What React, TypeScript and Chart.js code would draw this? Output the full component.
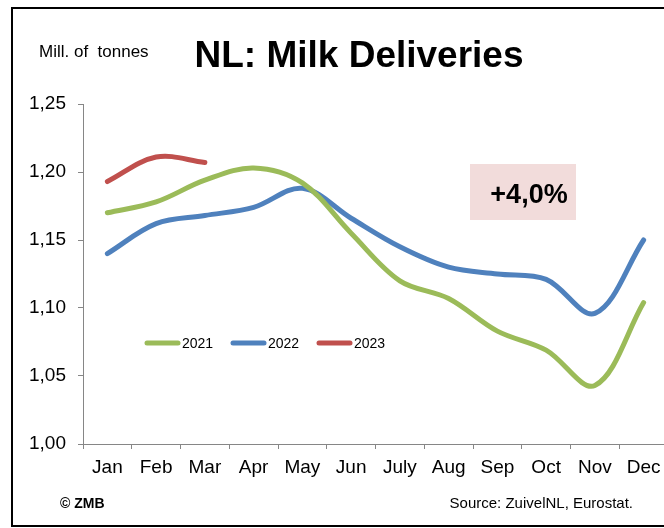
import React, { useEffect, useRef } from "react";
import { Chart, registerables } from "chart.js";

Chart.register(...registerables);

const months = ["Jan", "Feb", "Mar", "Apr", "May", "Jun", "July", "Aug", "Sep", "Oct", "Nov", "Dec"];
const seriesLabels = ["2021", "2022", "2023"];
const values2021 = [1.170, 1.178, 1.194, 1.203, 1.192, 1.155, 1.120, 1.107, 1.083, 1.069, 1.043, 1.104];
const values2022 = [1.140, 1.162, 1.168, 1.174, 1.188, 1.166, 1.145, 1.130, 1.125, 1.121, 1.096, 1.150];
const values2023 = [1.193, 1.211, 1.207];
const seriesColors = ["#9BBB59", "#4F81BD", "#C0504D"];
const yMin = 1.0;
const yMax = 1.25;
const yStep = 0.05;

const titleText = "NL: Milk Deliveries";
const unitText = "Mill. of  tonnes";
const changeText = "+4,0%";
const copyrightText = "© ZMB";
const sourceText = "Source: ZuivelNL, Eurostat.";

const FONT = '"Liberation Sans", Arial, sans-serif';

const decorPlugin = {
  id: "decor",
  beforeDraw(chart: any) {
    const ctx = chart.ctx;
    ctx.save();
    ctx.fillStyle = "#ffffff";
    ctx.fillRect(0, 0, chart.width, chart.height);
    // pink annotation box
    ctx.fillStyle = "#F2DCDB";
    ctx.fillRect(470, 164, 106, 56);
    ctx.restore();
  },
  afterDraw(chart: any) {
    const ctx = chart.ctx;
    ctx.save();
    // frame
    ctx.strokeStyle = "#000000";
    ctx.lineWidth = 2;
    ctx.strokeRect(12, 8, chart.width + 20, 518);

    ctx.fillStyle = "#000000";
    ctx.textBaseline = "alphabetic";
    // title
    ctx.font = `bold 37px ${FONT}`;
    ctx.textAlign = "center";
    ctx.fillText(titleText, 359, 67);
    // unit
    ctx.font = `17px ${FONT}`;
    ctx.textAlign = "left";
    ctx.fillText(unitText, 39, 57);
    // change annotation
    ctx.font = `bold 27px ${FONT}`;
    ctx.textAlign = "center";
    ctx.fillText(changeText, 529, 203);
    // footer
    ctx.font = `bold 14px ${FONT}`;
    ctx.textAlign = "left";
    ctx.fillText(copyrightText, 60, 508);
    ctx.font = `15px ${FONT}`;
    ctx.textAlign = "right";
    ctx.fillText(sourceText, 633, 508);

    // legend
    const ds = chart.data.datasets;
    ds.forEach((d: any, i: number) => {
      const x0 = 145 + i * 86;
      const y = 343;
      ctx.strokeStyle = d.borderColor;
      ctx.lineWidth = 5;
      ctx.lineCap = "round";
      ctx.beginPath();
      ctx.moveTo(x0 + 2, y);
      ctx.lineTo(x0 + 33, y);
      ctx.stroke();
      ctx.fillStyle = "#000000";
      ctx.font = `14px ${FONT}`;
      ctx.textAlign = "left";
      ctx.textBaseline = "middle";
      ctx.fillText(d.label, x0 + 37, y + 1);
    });
    ctx.restore();
  },
};

export default function App() {
  const canvasRef = useRef<HTMLCanvasElement | null>(null);

  useEffect(() => {
    const canvas = canvasRef.current;
    if (!canvas) return;
    const allValues = [values2021, values2022, values2023];
    const chart = new Chart(canvas, {
      type: "line",
      data: {
        labels: months,
        datasets: allValues.map((vals, i) => ({
          label: seriesLabels[i],
          data: vals,
          borderColor: seriesColors[i],
          backgroundColor: seriesColors[i],
          borderWidth: 5,
          borderCapStyle: "round",
          borderJoinStyle: "round",
          pointRadius: 0,
          pointHoverRadius: 0,
          tension: 0.35,
          fill: false,
        })),
      },
      options: {
        responsive: false,
        animation: false,
        devicePixelRatio: 1,
        events: [],
        layout: { padding: { left: 0, top: 104, right: 32, bottom: 0 } },
        plugins: {
          legend: { display: false },
          title: { display: false },
          tooltip: { enabled: false },
        },
        scales: {
          x: {
            type: "category",
            offset: true,
            grid: {
              display: true,
              offset: true,
              drawOnChartArea: false,
              drawTicks: true,
              tickLength: 5,
              color: "#868686",
            },
            border: { display: true, color: "#868686", width: 1 },
            ticks: {
              color: "#000000",
              font: { family: FONT, size: 19 },
              padding: 7,
              maxRotation: 0,
              autoSkip: false,
            },
            afterFit(scale: any) {
              scale.height = 84;
            },
          },
          y: {
            min: yMin,
            max: yMax,
            grid: {
              display: true,
              drawOnChartArea: false,
              drawTicks: true,
              tickLength: 5,
              color: "#868686",
            },
            border: { display: true, color: "#868686", width: 1 },
            ticks: {
              stepSize: yStep,
              color: "#000000",
              font: { family: FONT, size: 19 },
              padding: 12,
              callback: (v: any) => Number(v).toFixed(2).replace(".", ","),
            },
            afterFit(scale: any) {
              scale.width = 83;
            },
          },
        },
      },
      plugins: [decorPlugin],
    } as any);
    return () => chart.destroy();
  }, []);

  return (
    <div
      style={{
        position: "fixed",
        left: 0,
        top: 0,
        width: 664,
        height: 528,
        overflow: "hidden",
        background: "#ffffff",
      }}
    >
      <canvas ref={canvasRef} width={700} height={528} style={{ display: "block" }} />
    </div>
  );
}
